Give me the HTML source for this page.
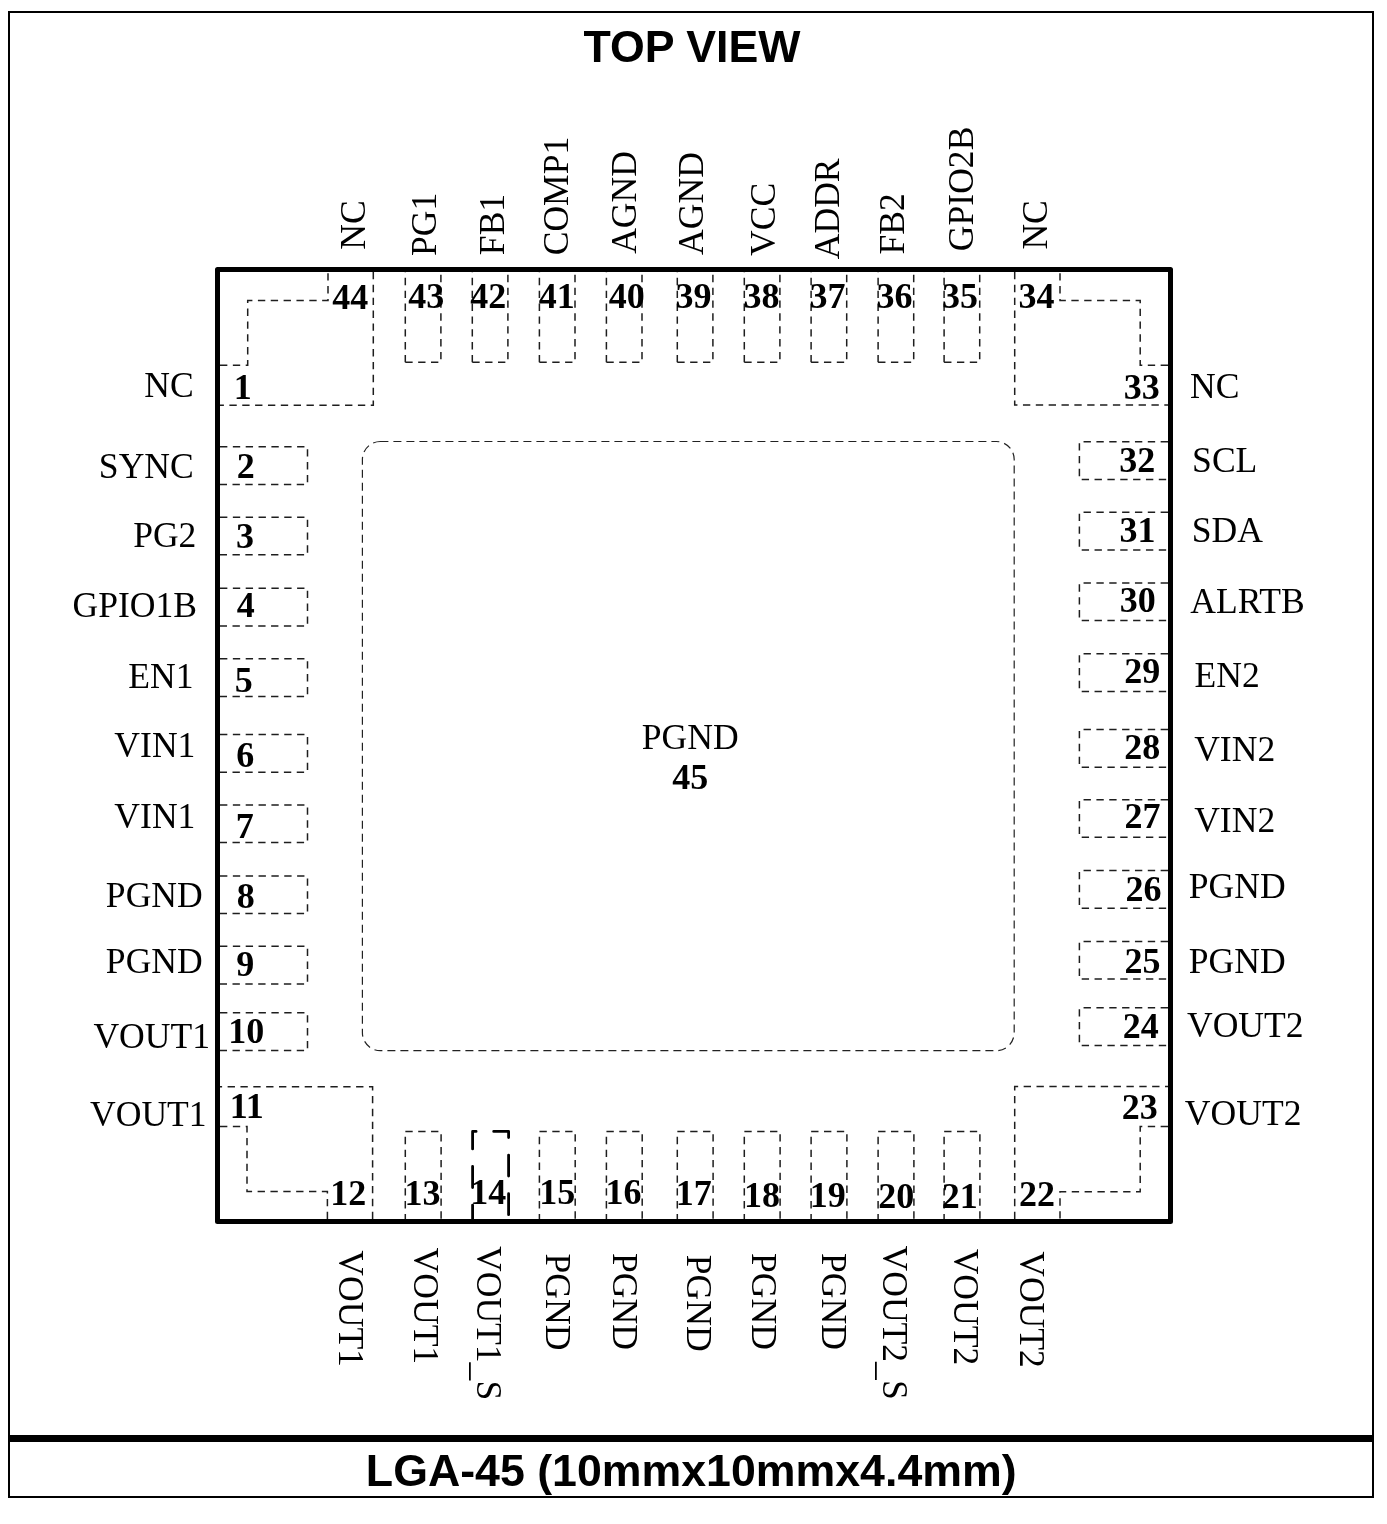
<!DOCTYPE html>
<html><head><meta charset="utf-8"><title>LGA-45 Top View</title>
<style>
html,body{margin:0;padding:0;background:#fff;}
svg{display:block;will-change:transform;}
.s{font-family:"Liberation Serif",serif;font-weight:400;fill:#000;}
.b{font-family:"Liberation Serif",serif;font-weight:700;fill:#000;}
.a{font-family:"Liberation Sans",sans-serif;font-weight:700;fill:#000;}
</style></head>
<body>
<svg width="1387" height="1524" viewBox="0 0 1387 1524">
<rect width="1387" height="1524" fill="#fff"/>
<rect x="9" y="12" width="1364" height="1485" fill="none" stroke="#000" stroke-width="2"/>
<rect x="8" y="1435" width="1366" height="7" fill="#000"/>
<path d="M405.3 362.2H440.9V272" fill="none" stroke="#1e1e1e" stroke-width="1.5" stroke-dasharray="7.35 5.5"/>
<path d="M405.3 272V362.2" fill="none" stroke="#1e1e1e" stroke-width="1.5" stroke-dasharray="7.35 5.5" stroke-dashoffset="7"/>
<path d="M472.3 362.2H507.9V272" fill="none" stroke="#1e1e1e" stroke-width="1.5" stroke-dasharray="7.35 5.5"/>
<path d="M472.3 272V362.2" fill="none" stroke="#1e1e1e" stroke-width="1.5" stroke-dasharray="7.35 5.5" stroke-dashoffset="7"/>
<path d="M539.4 362.2H575.0V272" fill="none" stroke="#1e1e1e" stroke-width="1.5" stroke-dasharray="7.35 5.5"/>
<path d="M539.4 272V362.2" fill="none" stroke="#1e1e1e" stroke-width="1.5" stroke-dasharray="7.35 5.5" stroke-dashoffset="7"/>
<path d="M606.4 362.2H642.0V272" fill="none" stroke="#1e1e1e" stroke-width="1.5" stroke-dasharray="7.35 5.5"/>
<path d="M606.4 272V362.2" fill="none" stroke="#1e1e1e" stroke-width="1.5" stroke-dasharray="7.35 5.5" stroke-dashoffset="7"/>
<path d="M677.3 362.2H712.9V272" fill="none" stroke="#1e1e1e" stroke-width="1.5" stroke-dasharray="7.35 5.5"/>
<path d="M677.3 272V362.2" fill="none" stroke="#1e1e1e" stroke-width="1.5" stroke-dasharray="7.35 5.5" stroke-dashoffset="7"/>
<path d="M744.3 362.2H779.9V272" fill="none" stroke="#1e1e1e" stroke-width="1.5" stroke-dasharray="7.35 5.5"/>
<path d="M744.3 272V362.2" fill="none" stroke="#1e1e1e" stroke-width="1.5" stroke-dasharray="7.35 5.5" stroke-dashoffset="7"/>
<path d="M811.1 362.2H846.7V272" fill="none" stroke="#1e1e1e" stroke-width="1.5" stroke-dasharray="7.35 5.5"/>
<path d="M811.1 272V362.2" fill="none" stroke="#1e1e1e" stroke-width="1.5" stroke-dasharray="7.35 5.5" stroke-dashoffset="7"/>
<path d="M878.1 362.2H913.7V272" fill="none" stroke="#1e1e1e" stroke-width="1.5" stroke-dasharray="7.35 5.5"/>
<path d="M878.1 272V362.2" fill="none" stroke="#1e1e1e" stroke-width="1.5" stroke-dasharray="7.35 5.5" stroke-dashoffset="7"/>
<path d="M944.1 362.2H979.7V272" fill="none" stroke="#1e1e1e" stroke-width="1.5" stroke-dasharray="7.35 5.5"/>
<path d="M944.1 272V362.2" fill="none" stroke="#1e1e1e" stroke-width="1.5" stroke-dasharray="7.35 5.5" stroke-dashoffset="7"/>
<path d="M405.3 1221.3V1131.4H441.1V1221.3" fill="none" stroke="#1e1e1e" stroke-width="1.5" stroke-dasharray="7.35 5.5"/>
<path d="M539.4 1221.3V1131.4H575.2V1221.3" fill="none" stroke="#1e1e1e" stroke-width="1.5" stroke-dasharray="7.35 5.5"/>
<path d="M606.4 1221.3V1131.4H642.2V1221.3" fill="none" stroke="#1e1e1e" stroke-width="1.5" stroke-dasharray="7.35 5.5"/>
<path d="M677.3 1221.3V1131.4H713.1V1221.3" fill="none" stroke="#1e1e1e" stroke-width="1.5" stroke-dasharray="7.35 5.5"/>
<path d="M744.3 1221.3V1131.4H780.1V1221.3" fill="none" stroke="#1e1e1e" stroke-width="1.5" stroke-dasharray="7.35 5.5"/>
<path d="M811.1 1221.3V1131.4H846.9V1221.3" fill="none" stroke="#1e1e1e" stroke-width="1.5" stroke-dasharray="7.35 5.5"/>
<path d="M878.1 1221.3V1131.4H913.9V1221.3" fill="none" stroke="#1e1e1e" stroke-width="1.5" stroke-dasharray="7.35 5.5"/>
<path d="M944.1 1221.3V1131.4H979.9V1221.3" fill="none" stroke="#1e1e1e" stroke-width="1.5" stroke-dasharray="7.35 5.5"/>
<path d="M472.6 1219.5V1131.4H508.6V1219.5" fill="none" stroke="#000" stroke-width="2.8" stroke-linecap="round" stroke-linejoin="round" stroke-dasharray="21 17.6" stroke-dashoffset="6.6"/>
<path d="M220 446.8H307.5V484.4H220" fill="none" stroke="#1e1e1e" stroke-width="1.5" stroke-dasharray="7.35 5.5"/>
<path d="M220 517.2H307.5V554.8H220" fill="none" stroke="#1e1e1e" stroke-width="1.5" stroke-dasharray="7.35 5.5"/>
<path d="M220 588.3H307.5V625.9H220" fill="none" stroke="#1e1e1e" stroke-width="1.5" stroke-dasharray="7.35 5.5"/>
<path d="M220 658.8H307.5V696.4H220" fill="none" stroke="#1e1e1e" stroke-width="1.5" stroke-dasharray="7.35 5.5"/>
<path d="M220 734.6H307.5V772.2H220" fill="none" stroke="#1e1e1e" stroke-width="1.5" stroke-dasharray="7.35 5.5"/>
<path d="M220 805H307.5V842.6H220" fill="none" stroke="#1e1e1e" stroke-width="1.5" stroke-dasharray="7.35 5.5"/>
<path d="M220 876H307.5V913.6H220" fill="none" stroke="#1e1e1e" stroke-width="1.5" stroke-dasharray="7.35 5.5"/>
<path d="M220 946.3H307.5V983.9H220" fill="none" stroke="#1e1e1e" stroke-width="1.5" stroke-dasharray="7.35 5.5"/>
<path d="M220 1012.8H307.5V1050.4H220" fill="none" stroke="#1e1e1e" stroke-width="1.5" stroke-dasharray="7.35 5.5"/>
<path d="M1168 441.8H1079.4V479.4H1168" fill="none" stroke="#1e1e1e" stroke-width="1.5" stroke-dasharray="7.35 5.5"/>
<path d="M1168 512.3H1079.4V549.9H1168" fill="none" stroke="#1e1e1e" stroke-width="1.5" stroke-dasharray="7.35 5.5"/>
<path d="M1168 583H1079.4V620.6H1168" fill="none" stroke="#1e1e1e" stroke-width="1.5" stroke-dasharray="7.35 5.5"/>
<path d="M1168 653.8H1079.4V691.4H1168" fill="none" stroke="#1e1e1e" stroke-width="1.5" stroke-dasharray="7.35 5.5"/>
<path d="M1168 729.6H1079.4V767.2H1168" fill="none" stroke="#1e1e1e" stroke-width="1.5" stroke-dasharray="7.35 5.5"/>
<path d="M1168 799.7H1079.4V837.3H1168" fill="none" stroke="#1e1e1e" stroke-width="1.5" stroke-dasharray="7.35 5.5"/>
<path d="M1168 870.6H1079.4V908.2H1168" fill="none" stroke="#1e1e1e" stroke-width="1.5" stroke-dasharray="7.35 5.5"/>
<path d="M1168 941.5H1079.4V979.1H1168" fill="none" stroke="#1e1e1e" stroke-width="1.5" stroke-dasharray="7.35 5.5"/>
<path d="M1168 1007.8H1079.4V1045.4H1168" fill="none" stroke="#1e1e1e" stroke-width="1.5" stroke-dasharray="7.35 5.5"/>
<path d="M220 365.3H247.7V300.4H328V272M373.3 272V405.3H220" fill="none" stroke="#1e1e1e" stroke-width="1.5" stroke-dasharray="7.35 5.5"/>
<path d="M1168 365.3H1140.2V300.4H1060V272M1014.7 272V405.1H1168" fill="none" stroke="#1e1e1e" stroke-width="1.5" stroke-dasharray="7.35 5.5"/>
<path d="M220 1126.4H247V1191.6H327.4V1219M372.6 1219V1086.8H220" fill="none" stroke="#1e1e1e" stroke-width="1.5" stroke-dasharray="7.35 5.5"/>
<path d="M1168 1126.4H1140.2V1191.7H1060V1219M1014.7 1219V1086.6H1168" fill="none" stroke="#1e1e1e" stroke-width="1.5" stroke-dasharray="7.35 5.5"/>
<rect x="362.4" y="441.5" width="651.8" height="609.2" rx="18" ry="18" fill="none" stroke="#222" stroke-width="1.2" stroke-dasharray="8 5"/>
<rect x="217.5" y="269.5" width="953" height="952" fill="none" stroke="#000" stroke-width="5" stroke-linejoin="round"/>
<text id="L0" class="s" x="144.35" y="396.95" font-size="35.60">NC</text>
<text id="L1" class="s" x="98.85" y="478.45" font-size="35.60">SYNC</text>
<text id="L2" class="s" x="133.15" y="546.50" font-size="35.60">PG2</text>
<text id="L3" class="s" x="72.50" y="617.30" font-size="35.60">GPIO1B</text>
<text id="L4" class="s" x="128.30" y="687.60" font-size="35.60">EN1</text>
<text id="L5" class="s" x="114.35" y="757.10" font-size="35.60">VIN1</text>
<text id="L6" class="s" x="114.35" y="828.30" font-size="35.60">VIN1</text>
<text id="L7" class="s" x="105.85" y="907.35" font-size="35.60">PGND</text>
<text id="L8" class="s" x="105.85" y="973.05" font-size="35.60">PGND</text>
<text id="L9" class="s" x="93.40" y="1048.35" font-size="35.60">VOUT1</text>
<text id="L10" class="s" x="90.00" y="1125.55" font-size="35.60">VOUT1</text>
<text id="R0" class="s" x="1189.95" y="398.15" font-size="35.60">NC</text>
<text id="R1" class="s" x="1192.10" y="472.30" font-size="35.60">SCL</text>
<text id="R2" class="s" x="1191.80" y="541.60" font-size="35.60">SDA</text>
<text id="R3" class="s" x="1190.25" y="612.70" font-size="35.60">ALRTB</text>
<text id="R4" class="s" x="1194.60" y="686.75" font-size="35.60">EN2</text>
<text id="R5" class="s" x="1194.15" y="760.50" font-size="35.60">VIN2</text>
<text id="R6" class="s" x="1194.15" y="832.05" font-size="35.60">VIN2</text>
<text id="R7" class="s" x="1188.80" y="897.70" font-size="35.60">PGND</text>
<text id="R8" class="s" x="1188.80" y="972.95" font-size="35.60">PGND</text>
<text id="R9" class="s" x="1186.95" y="1037.40" font-size="35.60">VOUT2</text>
<text id="R10" class="s" x="1184.85" y="1125.25" font-size="35.60">VOUT2</text>
<text id="T0" class="s" transform="translate(364.80 249.70) rotate(-90)" font-size="35.60">NC</text>
<text id="T1" class="s" transform="translate(436.45 255.95) rotate(-90)" font-size="35.60">PG1</text>
<text id="T2" class="s" transform="translate(503.50 255.15) rotate(-90)" font-size="35.60">FB1</text>
<text id="T3" class="s" transform="translate(568.30 255.30) rotate(-90)" font-size="35.60">COMP1</text>
<text id="T4" class="s" transform="translate(636.30 253.85) rotate(-90)" font-size="35.60">AGND</text>
<text id="T5" class="s" transform="translate(702.70 254.95) rotate(-90)" font-size="35.60">AGND</text>
<text id="T6" class="s" transform="translate(774.50 255.90) rotate(-90)" font-size="35.60">VCC</text>
<text id="T7" class="s" transform="translate(839.00 259.25) rotate(-90)" font-size="35.60">ADDR</text>
<text id="T8" class="s" transform="translate(904.30 254.55) rotate(-90)" font-size="35.60">FB2</text>
<text id="T9" class="s" transform="translate(972.70 251.15) rotate(-90)" font-size="35.60">GPIO2B</text>
<text id="T10" class="s" transform="translate(1046.50 249.60) rotate(-90)" font-size="35.60">NC</text>
<text id="B0" class="s" transform="translate(338.70 1250.30) rotate(90)" font-size="35.60">VOUT1</text>
<text id="B1" class="s" transform="translate(414.30 1247.55) rotate(90)" font-size="35.60">VOUT1</text>
<text id="B2" class="s" transform="translate(476.50 1246.00) rotate(90)" font-size="35.60">VOUT1<tspan dy="3">_</tspan><tspan dy="-3">S</tspan></text>
<text id="B3" class="s" transform="translate(545.70 1253.50) rotate(90)" font-size="35.60">PGND</text>
<text id="B4" class="s" transform="translate(612.70 1253.00) rotate(90)" font-size="35.60">PGND</text>
<text id="B5" class="s" transform="translate(686.90 1254.75) rotate(90)" font-size="35.60">PGND</text>
<text id="B6" class="s" transform="translate(752.30 1253.00) rotate(90)" font-size="35.60">PGND</text>
<text id="B7" class="s" transform="translate(821.85 1253.00) rotate(90)" font-size="35.60">PGND</text>
<text id="B8" class="s" transform="translate(883.30 1245.50) rotate(90)" font-size="35.60">VOUT2<tspan dy="3">_</tspan><tspan dy="-3">S</tspan></text>
<text id="B9" class="s" transform="translate(953.50 1248.65) rotate(90)" font-size="35.60">VOUT2</text>
<text id="B10" class="s" transform="translate(1020.30 1251.20) rotate(90)" font-size="35.60">VOUT2</text>
<text id="C0" class="s" x="641.80" y="749.35" font-size="35.60">PGND</text>
<text id="N1" class="b" x="233.70" y="398.55" font-size="36.00">1</text>
<text id="N2" class="b" x="236.65" y="477.55" font-size="36.00">2</text>
<text id="N3" class="b" x="236.00" y="547.90" font-size="36.00">3</text>
<text id="N4" class="b" x="236.65" y="617.30" font-size="36.00">4</text>
<text id="N5" class="b" x="234.75" y="691.70" font-size="36.00">5</text>
<text id="N6" class="b" x="236.20" y="767.20" font-size="36.00">6</text>
<text id="N7" class="b" x="235.80" y="837.90" font-size="36.00">7</text>
<text id="N8" class="b" x="236.65" y="908.05" font-size="36.00">8</text>
<text id="N9" class="b" x="236.35" y="976.00" font-size="36.00">9</text>
<text id="N10" class="b" x="228.15" y="1043.10" font-size="36.00">10</text>
<text id="N11" class="b" x="229.65" y="1117.60" font-size="36.00">11</text>
<text id="N12" class="b" x="330.15" y="1204.95" font-size="36.00">12</text>
<text id="N13" class="b" x="404.50" y="1204.65" font-size="36.00">13</text>
<text id="N14" class="b" x="470.25" y="1203.90" font-size="36.00">14</text>
<text id="N15" class="b" x="539.30" y="1203.90" font-size="36.00">15</text>
<text id="N16" class="b" x="605.55" y="1203.90" font-size="36.00">16</text>
<text id="N17" class="b" x="675.75" y="1205.45" font-size="36.00">17</text>
<text id="N18" class="b" x="743.90" y="1207.45" font-size="36.00">18</text>
<text id="N19" class="b" x="809.85" y="1207.00" font-size="36.00">19</text>
<text id="N20" class="b" x="878.25" y="1207.80" font-size="36.00">20</text>
<text id="N21" class="b" x="941.75" y="1208.00" font-size="36.00">21</text>
<text id="N22" class="b" x="1019.05" y="1205.90" font-size="36.00">22</text>
<text id="N23" class="b" x="1121.85" y="1119.05" font-size="36.00">23</text>
<text id="N24" class="b" x="1122.85" y="1038.05" font-size="36.00">24</text>
<text id="N25" class="b" x="1124.55" y="972.50" font-size="36.00">25</text>
<text id="N26" class="b" x="1125.45" y="901.40" font-size="36.00">26</text>
<text id="N27" class="b" x="1124.55" y="827.50" font-size="36.00">27</text>
<text id="N28" class="b" x="1124.30" y="758.80" font-size="36.00">28</text>
<text id="N29" class="b" x="1124.30" y="683.20" font-size="36.00">29</text>
<text id="N30" class="b" x="1119.70" y="611.70" font-size="36.00">30</text>
<text id="N31" class="b" x="1119.55" y="542.00" font-size="36.00">31</text>
<text id="N32" class="b" x="1119.30" y="471.90" font-size="36.00">32</text>
<text id="N33" class="b" x="1123.70" y="398.65" font-size="36.00">33</text>
<text id="N34" class="b" x="1018.60" y="307.80" font-size="36.00">34</text>
<text id="N35" class="b" x="941.95" y="307.75" font-size="36.00">35</text>
<text id="N36" class="b" x="876.50" y="307.75" font-size="36.00">36</text>
<text id="N37" class="b" x="809.50" y="307.75" font-size="36.00">37</text>
<text id="N38" class="b" x="743.50" y="307.75" font-size="36.00">38</text>
<text id="N39" class="b" x="675.60" y="307.75" font-size="36.00">39</text>
<text id="N40" class="b" x="608.80" y="307.60" font-size="36.00">40</text>
<text id="N41" class="b" x="538.75" y="308.25" font-size="36.00">41</text>
<text id="N42" class="b" x="470.20" y="307.75" font-size="36.00">42</text>
<text id="N43" class="b" x="408.30" y="307.75" font-size="36.00">43</text>
<text id="N44" class="b" x="332.15" y="308.50" font-size="36.00">44</text>
<text id="N45" class="b" x="672.25" y="788.85" font-size="36.00">45</text>
<text id="S0" class="a" x="583.60" y="61.70" font-size="44.70">TOP VIEW</text>
<text id="S1" class="a" x="365.85" y="1486.05" font-size="44.70">LGA-45 (10mmx10mmx4.4mm)</text>
</svg>
</body></html>
